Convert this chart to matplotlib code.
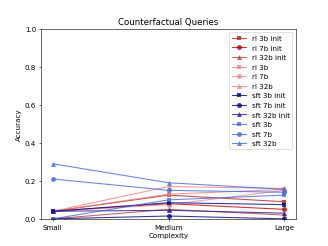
import matplotlib
matplotlib.use("Agg")
import matplotlib.pyplot as plt

complexity = ["Small", "Medium", "Large"]

rl_3b_init = [0.04, 0.125, 0.09]
rl_7b_init = [0.04, 0.08, 0.05]
rl_32b_init = [0.0, 0.05, 0.02]
rl_3b = [0.04, 0.13, 0.155]
rl_7b = [0.04, 0.075, 0.15]
rl_32b = [0.04, 0.17, 0.16]
sft_3b_init = [0.04, 0.085, 0.075]
sft_7b_init = [0.0, 0.015, 0.0]
sft_32b_init = [0.04, 0.045, 0.03]
sft_3b = [0.0, 0.10, 0.125]
sft_7b = [0.21, 0.15, 0.14]
sft_32b = [0.29, 0.19, 0.155]

series = [
    ("rl 3b init", rl_3b_init, "#b22222", "s"),
    ("rl 7b init", rl_7b_init, "#b80000", "o"),
    ("rl 32b init", rl_32b_init, "#c03c3c", "^"),
    ("rl 3b", rl_3b, "#f08080", "s"),
    ("rl 7b", rl_7b, "#f28a8a", "o"),
    ("rl 32b", rl_32b, "#f08080", "^"),
    ("sft 3b init", sft_3b_init, "#00008b", "s"),
    ("sft 7b init", sft_7b_init, "#000080", "o"),
    ("sft 32b init", sft_32b_init, "#1a1a99", "^"),
    ("sft 3b", sft_3b, "#4169e1", "s"),
    ("sft 7b", sft_7b, "#4169e1", "o"),
    ("sft 32b", sft_32b, "#4169e1", "^"),
]

fig, ax = plt.subplots(figsize=(6.4, 4.8), dpi=51.4)
for label, vals, color, marker in series:
    ax.plot(complexity, vals, color=color, marker=marker, label=label,
            alpha=0.8, markersize=7, markeredgewidth=0)

ax.set_ylim(0, 1.0)
ax.set_xlabel("Complexity")
ax.set_ylabel("Accuracy")
ax.set_title("Counterfactual Queries")
ax.legend(loc="upper right")

fig.savefig("out.png", dpi=51.4)
